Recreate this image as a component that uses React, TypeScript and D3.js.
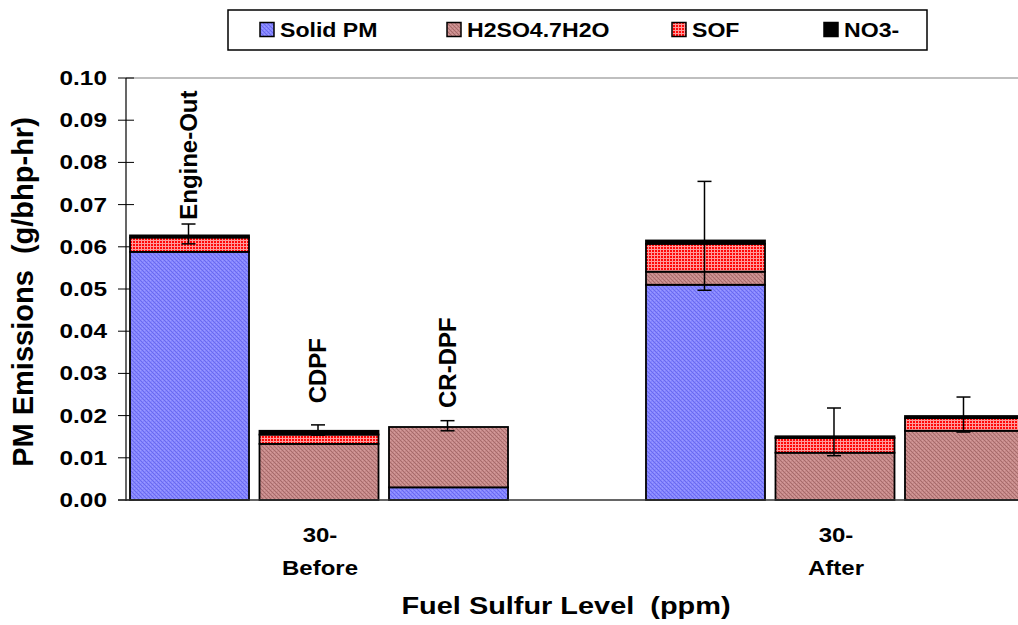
import React from "react";
import * as d3 from "d3";

// ---------- data ----------
const catLine1 = ["30-", "30-"];
const catLine2 = ["Before", "After"];
const filters = ["Engine-Out", "CDPF", "CR-DPF"];
const seriesNames = ["Solid PM", "H2SO4.7H2O", "SOF", "NO3-"];
const seriesKeys = ["solid", "h2so4", "sof", "no3"];

// values per category (Before, After), per filter (Engine-Out, CDPF, CR-DPF)
const solidPM = [
  [0.0588, 0.0, 0.003],
  [0.051, 0.0, 0.0],
];
const h2so4 = [
  [0.0, 0.0133, 0.0143],
  [0.0031, 0.0112, 0.0164],
];
const sof = [
  [0.0034, 0.0022, 0.0],
  [0.0066, 0.0035, 0.003],
];
const no3 = [
  [0.0005, 0.0009, 0.0],
  [0.0008, 0.0004, 0.0005],
];
const errLow = [
  [0.0607, 0.0154, 0.0164],
  [0.0497, 0.0105, 0.0161],
];
const errHigh = [
  [0.0654, 0.0178, 0.0188],
  [0.0755, 0.0218, 0.0244],
];
// bar labels (only on the "Before" group), value where the label starts
const labelStart = [0.0664, 0.0229, 0.0218];

const yTicks = [0, 0.01, 0.02, 0.03, 0.04, 0.05, 0.06, 0.07, 0.08, 0.09, 0.1];

// ---------- layout ----------
const W = 1018;
const H = 625;
const axisX = 126;
const FONT = "'Liberation Sans', Arial, Helvetica, sans-serif";
const legendSwatchX = [260, 447, 672, 824];
const fills = ["url(#pSolid)", "url(#pH2)", "url(#pSof)", "#000"];

export default function App() {
  const y = d3.scaleLinear().domain([0, 0.1]).range([500, 78]);
  const cats = catLine2;
  const x0 = d3
    .scaleBand<string>()
    .domain(cats)
    .range([130, 1024])
    .paddingInner(0.2674)
    .paddingOuter(0);
  const x1 = d3
    .scaleBand<string>()
    .domain(filters)
    .range([0, x0.bandwidth()])
    .paddingInner(0.081)
    .paddingOuter(0);

  const rows: any[] = [];
  cats.forEach((c, i) =>
    filters.forEach((f, j) =>
      rows.push({
        cat: c,
        ci: i,
        filter: f,
        fj: j,
        solid: solidPM[i][j],
        h2so4: h2so4[i][j],
        sof: sof[i][j],
        no3: no3[i][j],
        lo: errLow[i][j],
        hi: errHigh[i][j],
      })
    )
  );
  const stacked = d3.stack<any>().keys(seriesKeys)(rows);
  const bx = (r: any) => (x0(r.cat) as number) + (x1(r.filter) as number);
  const bw = x1.bandwidth();

  const hText = (
    key: string,
    x: number,
    yy: number,
    txt: string,
    size: number,
    anchor: string,
    sx: number
  ) => (
    <text
      key={key}
      transform={`translate(${x},${yy}) scale(${sx},1)`}
      textAnchor={anchor as any}
      fontFamily={FONT}
      fontWeight="bold"
      fontSize={size}
      fill="#000"
      style={{ whiteSpace: "pre" }}
    >
      {txt}
    </text>
  );

  return (
    <svg
      width={W}
      height={H}
      style={{ position: "absolute", left: 0, top: 0, background: "#fff" }}
    >
      <defs>
        <pattern id="pSolid" width="4" height="4" patternUnits="userSpaceOnUse">
          <rect width="4" height="4" fill="#8585FF" />
          <rect x="0" y="0" width="1" height="1" fill="#6A6AEE" />
          <rect x="1" y="1" width="1" height="1" fill="#6A6AEE" />
          <rect x="2" y="2" width="1" height="1" fill="#6A6AEE" />
          <rect x="3" y="3" width="1" height="1" fill="#6A6AEE" />
          <rect x="2" y="0" width="1" height="1" fill="#9A9AFF" />
          <rect x="0" y="2" width="1" height="1" fill="#9A9AFF" />
        </pattern>
        <pattern id="pH2" width="4" height="4" patternUnits="userSpaceOnUse">
          <rect width="4" height="4" fill="#C68989" />
          <rect x="0" y="0" width="1" height="1" fill="#A66B6B" />
          <rect x="1" y="1" width="1" height="1" fill="#A66B6B" />
          <rect x="2" y="2" width="1" height="1" fill="#A66B6B" />
          <rect x="3" y="3" width="1" height="1" fill="#A66B6B" />
          <rect x="2" y="0" width="1" height="1" fill="#D49C9C" />
          <rect x="0" y="2" width="1" height="1" fill="#D49C9C" />
        </pattern>
        <pattern id="pSof" width="3" height="3" patternUnits="userSpaceOnUse">
          <rect width="3" height="3" fill="#FF0808" />
          <rect x="0" y="0" width="3" height="1" fill="#FF9A9A" />
          <rect x="0" y="0" width="1" height="3" fill="#FF9A9A" />
        </pattern>
      </defs>

      {/* top border line at 0.10 */}
      <line x1={axisX} x2={W} y1={y(0.1)} y2={y(0.1)} stroke="#808080" strokeWidth={1.2} />

      {/* y ticks */}
      {yTicks.map((t) => (
        <line
          key={"tk" + t}
          x1={118}
          x2={134}
          y1={y(t)}
          y2={y(t)}
          stroke="#000"
          strokeWidth={1}
        />
      ))}

      {/* bars */}
      {stacked.map((layer, si) =>
        layer.map((d: any, k: number) => {
          const r = d.data;
          if (d[1] - d[0] <= 0) return null;
          return (
            <rect
              key={`b${si}-${k}`}
              x={bx(r)}
              width={bw}
              y={y(d[1])}
              height={y(d[0]) - y(d[1])}
              fill={fills[si]}
              stroke="#000"
              strokeWidth={1.8}
            />
          );
        })
      )}

      {/* axes */}
      <line x1={axisX} x2={axisX} y1={y(0.1)} y2={y(0) + 1} stroke="#000" strokeWidth={1.2} />
      <line x1={118} x2={W} y1={y(0)} y2={y(0)} stroke="#333" strokeWidth={1.5} />

      {/* error bars */}
      {rows.map((r, k) => {
        const cx = bx(r) + bw / 2 - 1;
        return (
          <g key={"e" + k} stroke="#000" strokeWidth={1.5}>
            <line x1={cx} x2={cx} y1={y(r.hi)} y2={y(r.lo)} />
            <line x1={cx - 7} x2={cx + 7} y1={y(r.hi)} y2={y(r.hi)} />
            <line x1={cx - 7} x2={cx + 7} y1={y(r.lo)} y2={y(r.lo)} />
          </g>
        );
      })}

      {/* filter labels on Before group */}
      {filters.map((f, j) => {
        const cx = (x0(cats[0]) as number) + (x1(f) as number) + bw / 2;
        return (
          <text
            key={"fl" + j}
            transform={`translate(${cx + 7},${y(labelStart[j])}) rotate(-90)`}
            textAnchor="start"
            fontFamily={FONT}
            fontWeight="bold"
            fontSize={24}
          >
            {f}
          </text>
        );
      })}

      {/* y tick labels */}
      {yTicks.map((t) => hText("yl" + t, 107, y(t) + 7, d3.format(".2f")(t), 20, "end", 1.22))}

      {/* category labels */}
      {cats.map((c, i) => {
        const cx = (x0(c) as number) + x0.bandwidth() / 2;
        return (
          <g key={"cl" + i}>
            {hText("c1" + i, cx + 1, 541.5, catLine1[i], 20, "middle", 1.2)}
            {hText("c2" + i, cx + 1, 575, catLine2[i], 20, "middle", 1.2)}
          </g>
        );
      })}

      {/* axis titles */}
      {hText("xt", 566, 614, "Fuel Sulfur Level  (ppm)", 23.5, "middle", 1.23)}
      <text
        transform={`translate(33,292) rotate(-90)`}
        textAnchor="middle"
        fontFamily={FONT}
        fontWeight="bold"
        fontSize={29}
        style={{ whiteSpace: "pre" }}
      >
        {"PM Emissions  (g/bhp-hr)"}
      </text>

      {/* legend */}
      <rect x={228} y={10} width={699} height={40} fill="#fff" stroke="#000" strokeWidth={1.5} />
      {seriesNames.map((s, i) => (
        <g key={"lg" + i}>
          <rect
            x={legendSwatchX[i]}
            y={22.5}
            width={14}
            height={14}
            fill={fills[i]}
            stroke="#000"
            strokeWidth={1.5}
          />
          {hText("lt" + i, legendSwatchX[i] + 20, 36.5, s, 21, "start", 1.1)}
        </g>
      ))}
    </svg>
  );
}
